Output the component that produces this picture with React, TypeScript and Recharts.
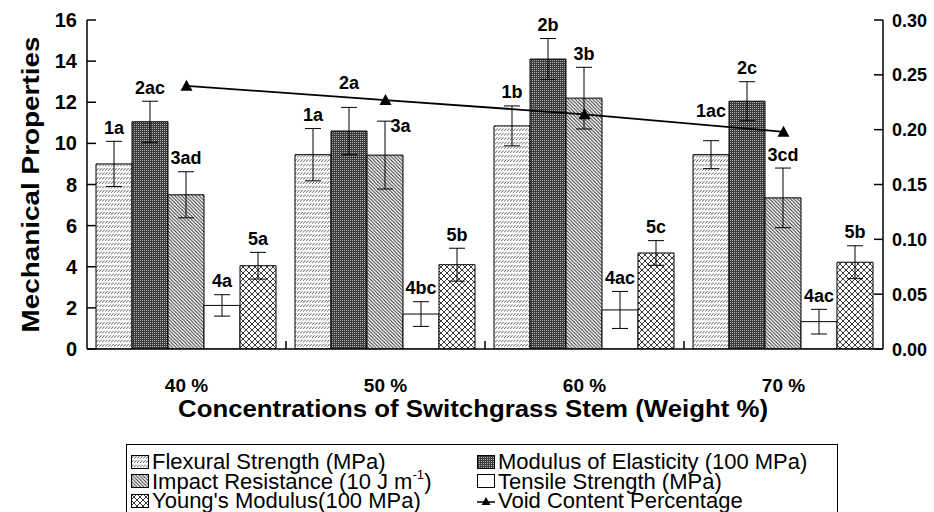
import React from 'react';
import { ComposedChart, Bar, Line, XAxis, YAxis, ErrorBar, LabelList, Label } from 'recharts';

// ---------------- data ----------------
const categories = ['40 %', '50 %', '60 %', '70 %'];

const flexuralStrength = [9.0, 9.45, 10.85, 9.45];
const flexuralStrengthErr = [1.1, 1.27, 0.97, 0.68];
const modulusOfElasticity = [11.05, 10.6, 14.1, 12.05];
const modulusOfElasticityErr = [1.0, 1.15, 1.0, 0.95];
const impactResistance = [7.5, 9.43, 12.2, 7.35];
const impactResistanceErr = [1.12, 1.65, 1.5, 1.45];
const tensileStrength = [2.12, 1.7, 1.9, 1.33];
const tensileStrengthErr = [0.52, 0.6, 0.9, 0.6];
const youngsModulus = [4.05, 4.1, 4.67, 4.22];
const youngsModulusErr = [0.65, 0.8, 0.6, 0.8];
const voidContent = [0.24, 0.227, 0.214, 0.198];

const flexuralTags = ['1a', '1a', '1b', '1ac'];
const modulusTags = ['2ac', '2a', '2b', '2c'];
const impactTags = ['3ad', '3a', '3b', '3cd'];
const tensileTags = ['4a', '4bc', '4ac', '4ac'];
const youngTags = ['5a', '5b', '5c', '5b'];

const leftTicks = [0, 2, 4, 6, 8, 10, 12, 14, 16];
const rightTicks = [0, 0.05, 0.1, 0.15, 0.2, 0.25, 0.3];

const yTitle = 'Mechanical Properties';
const xTitle = 'Concentrations of Switchgrass Stem (Weight %)';
const voidName = 'Void Content Percentage';

// ---------------- layout / style ----------------
const FONT = '"Liberation Sans", Arial, Helvetica, sans-serif';
const W = 934;
const H = 512;
const MARGIN = { top: 20, right: 0, bottom: 0, left: 0 };
const LEFT_AXIS_W = 87;
const RIGHT_AXIS_W = 51;
const X_AXIS_H = 163;
const PLOT_W = W - LEFT_AXIS_W - RIGHT_AXIS_W - MARGIN.left - MARGIN.right;
const CAT_GAP = 9;
const LEFT_MAX = 16;
const RIGHT_MAX = 0.3;
const LEGEND_ROW = 19.5;
const TAG_FONT = 18;

type Series = {
  key: string;
  errKey: string;
  name: React.ReactNode;
  values: number[];
  errors: number[];
  tags: string[];
  fill: string;
};

const SERIES: Series[] = [
  { key: 'flexural', errKey: 'flexuralErr', name: 'Flexural Strength (MPa)', values: flexuralStrength, errors: flexuralStrengthErr, tags: flexuralTags, fill: 'url(#pFlex)' },
  { key: 'modulus', errKey: 'modulusErr', name: 'Modulus of Elasticity (100 MPa)', values: modulusOfElasticity, errors: modulusOfElasticityErr, tags: modulusTags, fill: 'url(#pMod)' },
  {
    key: 'impact', errKey: 'impactErr',
    name: <>Impact Resistance (10 J m<sup style={{ fontSize: '0.6em', lineHeight: 0, verticalAlign: 'baseline', position: 'relative', top: '-0.75em' }}>-1</sup>)</>,
    values: impactResistance, errors: impactResistanceErr, tags: impactTags, fill: 'url(#pImp)',
  },
  { key: 'tensile', errKey: 'tensileErr', name: 'Tensile Strength (MPa)', values: tensileStrength, errors: tensileStrengthErr, tags: tensileTags, fill: '#ffffff' },
  { key: 'young', errKey: 'youngErr', name: "Young's Modulus(100 MPa)", values: youngsModulus, errors: youngsModulusErr, tags: youngTags, fill: 'url(#pYoung)' },
];

const data = categories.map((c, i) => {
  const row: Record<string, any> = { category: c, voidContent: voidContent[i] };
  SERIES.forEach((s) => {
    row[s.key] = s.values[i];
    row[s.errKey] = s.errors[i];
  });
  return row;
});

// ---------------- pieces ----------------
const Patterns = () => (
  <svg width={0} height={0} style={{ position: 'absolute' }}>
    <defs>
      <pattern id="pFlex" patternUnits="userSpaceOnUse" width={3} height={4.4}>
        <rect width={3} height={4.4} fill="#fff" />
        <line x1={0.2} y1={3.4} x2={2.6} y2={0.9} stroke="#333" strokeWidth={0.8} />
      </pattern>
      <pattern id="pMod" patternUnits="userSpaceOnUse" width={2} height={2}>
        <rect width={2} height={2} fill="#3c3c3c" />
        <rect width={1} height={1} fill="#b0b0b0" />
      </pattern>
      <pattern id="pImp" patternUnits="userSpaceOnUse" width={3.5} height={3.5}>
        <rect width={3.5} height={3.5} fill="#fff" />
        <line x1={0} y1={0} x2={3.5} y2={3.5} stroke="#222" strokeWidth={0.9} />
        <line x1={-1} y1={2.5} x2={1} y2={4.5} stroke="#222" strokeWidth={0.9} />
        <line x1={2.5} y1={-1} x2={4.5} y2={1} stroke="#222" strokeWidth={0.9} />
      </pattern>
      <pattern id="pYoung" patternUnits="userSpaceOnUse" width={6} height={6}>
        <rect width={6} height={6} fill="#fff" />
        <line x1={0} y1={0} x2={6} y2={6} stroke="#222" strokeWidth={0.9} />
        <line x1={6} y1={0} x2={0} y2={6} stroke="#222" strokeWidth={0.9} />
      </pattern>
    </defs>
  </svg>
);

// Places each significance tag above its error bar; if that spot collides with the
// void-content line, the tag is lifted above the line, or (when that lift is large)
// set beside the error cap instead.
function tagLabel(sIdx: number) {
  return (props: any) => {
    const vb = props.viewBox || {};
    const bx = Number(vb.x ?? props.x);
    const by = Number(vb.y ?? props.y);
    const bw = Number(vb.width ?? props.width);
    const bhRaw = Number(vb.height ?? props.height);
    const i = props.index;
    const s = SERIES[sIdx];
    if (i == null || !isFinite(bx) || !isFinite(by)) return null;
    const v = s.values[i];
    const e = s.errors[i];
    const top = Math.min(by, by + bhRaw);
    const bh = Math.abs(bhRaw);
    const base = top + bh;
    const ppu = bh / v;
    let cx = bx + bw / 2;
    const errTop = top - e * ppu;
    let cy = errTop - 14;
    const band = 5 * bw + 2 * CAT_GAP;
    const groupCenter = bx + bw / 2 + (2 - sIdx) * bw;
    const first = groupCenter - i * band;
    const lineYAt = (px: number) => {
      const t = (px - first) / band;
      if (t < 0 || t > voidContent.length - 1) return null;
      const k = Math.min(Math.floor(t), voidContent.length - 2);
      const f = t - k;
      const val = voidContent[k] * (1 - f) + voidContent[k + 1] * f;
      return base - (val / RIGHT_MAX) * LEFT_MAX * ppu;
    };
    const textW = s.tags[i].length * 0.58 * TAG_FONT;
    const halfW = textW / 2;
    const ys = [cx - halfW, cx, cx + halfW].map(lineYAt).filter((y) => y != null) as number[];
    if (ys.length) {
      const minY = Math.min(...ys);
      const maxY = Math.max(...ys);
      if (cy + 8 > minY - 2 && cy - 9 < maxY + 2) {
        const lifted = minY - 14;
        if (cy - lifted > 19) {
          cx = bx + bw / 2 + 5 + halfW;
          cy = errTop + 4;
        } else {
          cy = lifted;
        }
      }
    }
    return (
      <text x={cx} y={cy + 6.5} textAnchor="middle" fontFamily={FONT} fontWeight="bold" fontSize={TAG_FONT} fill="#000">
        {s.tags[i]}
      </text>
    );
  };
}

const LeftTick = (props: any) => {
  const { x, y, payload } = props;
  return (
    <g>
      <line x1={x} x2={x + 9} y1={y} y2={y} stroke="#000" strokeWidth={1.5} />
      <text x={x - 10} y={y + 7} textAnchor="end" fontFamily={FONT} fontWeight="bold" fontSize={20} fill="#000">
        {payload.value}
      </text>
    </g>
  );
};

const RightTick = (props: any) => {
  const { x, y, payload } = props;
  return (
    <g>
      <line x1={x - 9} x2={x} y1={y} y2={y} stroke="#000" strokeWidth={1.5} />
      <text x={x + 9} y={y + 6.5} textAnchor="start" fontFamily={FONT} fontWeight="bold" fontSize={18} fill="#000">
        {Number(payload.value).toFixed(2)}
      </text>
    </g>
  );
};

const XTick = (props: any) => {
  const { x, y, payload } = props;
  const idx = categories.indexOf(payload.value);
  const band = PLOT_W / categories.length;
  return (
    <g>
      {idx < categories.length - 1 && (
        <line x1={x + band / 2} x2={x + band / 2} y1={y} y2={y - 8} stroke="#000" strokeWidth={1.5} />
      )}
      <text x={x} y={y + 43} textAnchor="middle" fontFamily={FONT} fontWeight="bold" fontSize={19} fill="#000">
        {payload.value}
      </text>
    </g>
  );
};

const Triangle = (props: any) => {
  const { cx, cy } = props;
  if (cx == null || cy == null) return null;
  const s = 6;
  return <polygon points={`${cx},${cy - s} ${cx - s},${cy + s - 1} ${cx + s},${cy + s - 1}`} fill="#000" />;
};

const YTitle = (props: any) => {
  const vb = props.viewBox || {};
  const x = (vb.x ?? 0) + 31;
  const y = (vb.y ?? 0) + (vb.height ?? 0) / 2;
  return (
    <text x={x} y={y} transform={`rotate(-90, ${x}, ${y})`} textAnchor="middle" dominantBaseline="central"
      fontFamily={FONT} fontWeight="bold" fontSize={23} fill="#000" textLength={296} lengthAdjust="spacingAndGlyphs">
      {yTitle}
    </text>
  );
};

const XTitle = (props: any) => {
  const vb = props.viewBox || {};
  const x = (vb.x ?? 0) + (vb.width ?? 0) / 2 - 12;
  const y = (vb.y ?? 0) + 68;
  return (
    <text x={x} y={y} textAnchor="middle" fontFamily={FONT} fontWeight="bold" fontSize={23} fill="#000"
      textLength={590} lengthAdjust="spacingAndGlyphs">
      {xTitle}
    </text>
  );
};

const Swatch = ({ fill }: { fill: string }) => (
  <svg width={18} height={14} style={{ display: 'block', flex: 'none' }}>
    <rect x={0.5} y={0.5} width={17} height={13} fill={fill} stroke="#000" strokeWidth={1} />
  </svg>
);

const LineSwatch = () => (
  <svg width={18} height={14} style={{ display: 'block', flex: 'none' }}>
    <line x1={0} x2={18} y1={8} y2={8} stroke="#000" strokeWidth={1.5} />
    <polygon points="9,3 4.5,11 13.5,11" fill="#000" />
  </svg>
);

const textSpan: React.CSSProperties = {
  display: 'inline-block', height: LEGEND_ROW, lineHeight: `${LEGEND_ROW}px`, overflow: 'visible', whiteSpace: 'nowrap',
};

const LegendBox = () => {
  const order = [SERIES[0], SERIES[2], SERIES[4], SERIES[1], SERIES[3]];
  const rowStyle: React.CSSProperties = { display: 'flex', alignItems: 'center', gap: 3, whiteSpace: 'nowrap', height: LEGEND_ROW };
  const items: React.ReactNode[] = order.map((s) => (
    <div key={s.key} style={rowStyle}>
      <Swatch fill={s.fill} />
      <span style={textSpan}>{s.name}</span>
    </div>
  ));
  items.push(
    <div key="void" style={rowStyle}>
      <LineSwatch />
      <span style={textSpan}>{voidName}</span>
    </div>
  );
  return (
    <div
      style={{
        position: 'absolute', left: 126, top: 444, width: 712, height: 90,
        border: '1.5px solid #000', boxSizing: 'border-box', padding: '7px 0 0 4px',
        fontFamily: FONT, fontSize: 22, lineHeight: `${LEGEND_ROW}px`, color: '#000',
        display: 'grid', gridAutoFlow: 'column', gridTemplateRows: `repeat(3, ${LEGEND_ROW}px)`,
        gridTemplateColumns: '346px auto',
      }}
    >
      {items}
    </div>
  );
};

export default function App() {
  return (
    <div style={{ position: 'absolute', left: 0, top: 0, width: W, height: H, overflow: 'hidden', background: '#fff' }}>
      <Patterns />
      <ComposedChart width={W} height={H} data={data} margin={MARGIN} barCategoryGap={CAT_GAP} barGap={0}>
        <XAxis xAxisId="top" dataKey="category" orientation="top" height={0} tick={false} tickLine={false}
          axisLine={{ stroke: '#000', strokeWidth: 1.5 }} />
        <XAxis dataKey="category" height={X_AXIS_H} tickLine={false} tickSize={0} tickMargin={0}
          axisLine={{ stroke: '#000', strokeWidth: 1.5 }} tick={<XTick />} interval={0}>
          <Label content={<XTitle />} />
        </XAxis>
        <YAxis yAxisId="left" domain={[0, LEFT_MAX]} ticks={leftTicks} width={LEFT_AXIS_W} tickLine={false}
          tickSize={0} tickMargin={0} axisLine={{ stroke: '#000', strokeWidth: 1.5 }} tick={<LeftTick />} interval={0}
          allowDataOverflow>
          <Label content={<YTitle />} />
        </YAxis>
        <YAxis yAxisId="right" orientation="right" domain={[0, RIGHT_MAX]} ticks={rightTicks} width={RIGHT_AXIS_W}
          tickLine={false} tickSize={0} tickMargin={0} axisLine={{ stroke: '#000', strokeWidth: 1.5 }}
          tick={<RightTick />} interval={0} allowDataOverflow />
        {SERIES.map((s, sIdx) => (
          <Bar key={s.key} yAxisId="left" dataKey={s.key} fill={s.fill} stroke="#000" strokeWidth={1}
            isAnimationActive={false}>
            <ErrorBar dataKey={s.errKey} width={8} stroke="#000" strokeWidth={1} direction="y" isAnimationActive={false} />
            <LabelList dataKey={s.key} content={tagLabel(sIdx)} />
          </Bar>
        ))}
        <Line yAxisId="right" dataKey="voidContent" stroke="#000" strokeWidth={1.8} dot={<Triangle />}
          activeDot={false} isAnimationActive={false} />
      </ComposedChart>
      <LegendBox />
    </div>
  );
}
